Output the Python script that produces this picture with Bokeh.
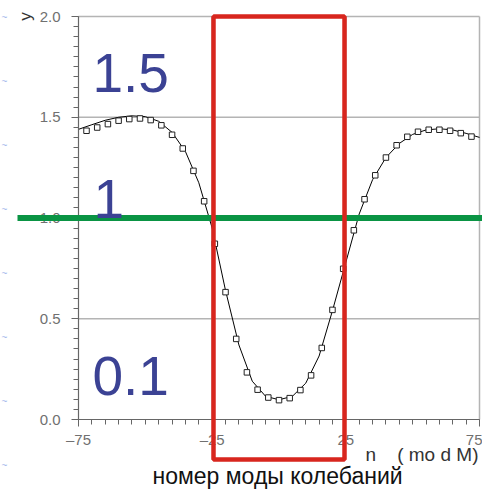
import math
from bokeh.plotting import figure
from bokeh.models import FixedTicker, Label, PolyAnnotation, Range1d
from bokeh.embed import file_html
from bokeh.resources import INLINE

# ---- data ----
marker_n = [-72, -68, -64, -60, -56, -52, -48, -44, -40, -36, -32, -28, -24, -20, -16, -12, -8, -4,
            0, 4, 8, 12, 16, 20, 24, 28, 32, 36, 40, 44, 48, 52, 56, 60, 64, 68, 72]
marker_y = [1.433, 1.449, 1.466, 1.483, 1.491, 1.494, 1.486, 1.46, 1.413, 1.345, 1.234, 1.083,
            0.872, 0.632, 0.40, 0.234, 0.148, 0.109, 0.096, 0.106, 0.146, 0.219, 0.355, 0.544,
            0.748, 0.939, 1.093, 1.212, 1.30, 1.361, 1.403, 1.428, 1.438, 1.438, 1.433, 1.421, 1.404]

curve_n = [-75, -70, -65, -60, -55, -50, -45, -40, -35, -30, -25, -20, -15, -10, -5, 0,
           5, 10, 15, 20, 25, 30, 35, 40, 45, 50, 55, 60, 65, 70, 75]
curve_y = [1.44, 1.463, 1.485, 1.50, 1.507, 1.503, 1.48, 1.425, 1.33, 1.175, 0.95, 0.64, 0.37,
           0.19, 0.115, 0.098, 0.115, 0.18, 0.315, 0.54, 0.78, 1.02, 1.19, 1.30, 1.37, 1.415,
           1.437, 1.443, 1.437, 1.42, 1.40]

x_ticks = [-75, -25, 25, 75]
x_tick_labels = ["\u201375", "\u201325", "25", "75"]
y_ticks = [0.0, 0.5, 1.0, 1.5, 2.0]
y_tick_labels = ["0.0", "0.5", "1.0", "1.5", "2.0"]

big_labels = ["1.5", "1", "0.1"]
NB = "\u00a0"
x_title = "n" + NB * 4 + "(" + NB + "mo" + NB + "d" + NB + "M)"
caption = "номер моды колебаний"

# ---- layout helpers (pixel -> data); the frame covers the whole canvas ----
W, H = 482, 489
FL, FR, FT, FB = 78, 479, 16, 419
def px2x(px):
    return -75 + (px - FL) * 150.0 / (FR - FL)
def py2y(py):
    return (FB - py) * 2.0 / (FB - FT)
def base(py, size):
    # Label 'alphabetic' anchor correction measured on the renderer
    return py2y(py - 0.41 * size)

p = figure(width=W, height=H, x_range=Range1d(px2x(0), px2x(W)),
           y_range=Range1d(py2y(H), py2y(0)),
           output_backend="svg", toolbar_location=None,
           min_border_left=0, min_border_right=0, min_border_top=0, min_border_bottom=0)
p.outline_line_color = None
p.background_fill_color = "white"
p.border_fill_color = "white"
p.grid.visible = False

p.xaxis.fixed_location = 0
p.xaxis.bounds = (x_ticks[0], x_ticks[-1])
p.yaxis.fixed_location = x_ticks[0]
p.yaxis.bounds = (y_ticks[0], y_ticks[-1])
p.xaxis.ticker = FixedTicker(ticks=x_ticks, minor_ticks=[v for v in range(-75, 80, 5)])
p.yaxis.ticker = FixedTicker(ticks=y_ticks, minor_ticks=[i * 0.05 for i in range(0, 41)])
p.xaxis.major_label_overrides = {t: s for t, s in zip(x_ticks, x_tick_labels)}
p.yaxis.major_label_overrides = {t: s for t, s in zip(y_ticks, y_tick_labels)}

for ax in (p.xaxis, p.yaxis):
    ax.axis_line_color = "#666666"
    ax.axis_line_width = 1.2
    ax.major_tick_line_color = "#666666"
    ax.minor_tick_line_color = "#666666"
    ax.major_tick_out = 7
    ax.major_tick_in = 0
    ax.minor_tick_out = 5
    ax.minor_tick_in = 0
    ax.major_label_text_font = "Liberation Sans"
    ax.major_label_text_font_size = "15px"
    ax.major_label_text_color = "#707070"
p.yaxis.major_label_standoff = 11
p.xaxis.major_label_standoff = 4

# grid lines at the labelled ticks, limited to the data area
gy = y_ticks[1:]
p.segment(x0=[x_ticks[0]] * len(gy), y0=gy, x1=[x_ticks[-1]] * len(gy), y1=gy,
          line_color="#b4b4b4", line_width=1.5)
gx = x_ticks[1:]
p.segment(x0=gx, y0=[y_ticks[0]] * len(gx), x1=gx, y1=[y_ticks[-1]] * len(gx),
          line_color="#b4b4b4", line_width=1.5)

p.line(curve_n, curve_y, line_color="black", line_width=1)
p.scatter(marker_n, marker_y, marker="square", size=5.5, fill_color="white",
          line_color="#222222", line_width=1)

# green horizontal line at y = 1
h = 3 * 2.0 / (FB - FT)
p.add_layout(PolyAnnotation(xs=[px2x(17), px2x(W + 2), px2x(W + 2), px2x(17)],
                            ys=[1.0 + h, 1.0 + h, 1.0 - h, 1.0 - h],
                            fill_color="#0a9444", fill_alpha=1.0, line_color=None))
# red rectangle
p.add_layout(PolyAnnotation(xs=[px2x(213), px2x(344), px2x(344), px2x(213)],
                            ys=[py2y(16), py2y(16), py2y(459), py2y(459)],
                            fill_alpha=0, line_color="#d8261e", line_alpha=1.0, line_width=4.5))

blue = "#3b4294"
for txt, (bx, by) in zip(big_labels, [(92, 95), (93, 221), (92, 398)]):
    p.add_layout(Label(x=px2x(bx), y=base(by, 55), text=txt, text_font="Liberation Sans",
                       text_font_size="55px", text_color=blue, text_baseline="alphabetic"))

p.add_layout(Label(x=px2x(25), y=py2y(16), text="y", angle=math.pi / 2,
                   text_align="center", text_baseline="middle",
                   text_font="Liberation Sans", text_font_size="17px", text_color="#333333"))
p.add_layout(Label(x=px2x(365), y=base(462, 19), text=x_title, text_font="Liberation Sans",
                   text_font_size="19px", text_color="#333333", text_baseline="alphabetic"))
p.add_layout(Label(x=px2x(152), y=base(485, 23), text=caption, text_font="Liberation Sans",
                   text_font_size="23px", text_color="#111111", text_baseline="alphabetic"))

for yy in [17, 81, 145, 209, 273, 337, 401, 465]:
    p.add_layout(Label(x=px2x(1), y=py2y(yy), text="~", text_font="Liberation Sans",
                       text_font_size="10px", text_color="#a6baec", text_baseline="middle"))

open("out.html", "w").write(file_html(p, INLINE))
